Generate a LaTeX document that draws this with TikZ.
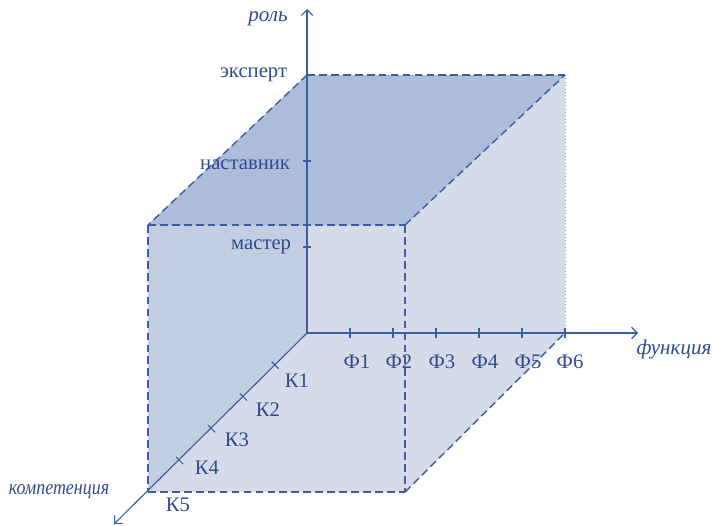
\documentclass[tikz,border=0pt]{standalone}
\usepackage{fontspec}
\setmainfont{Liberation Serif}
\usetikzlibrary{arrows.meta}
\definecolor{axisblue}{RGB}{62,92,160}
\definecolor{textblue}{RGB}{48,76,140}
\definecolor{lightface}{RGB}{213,219,233}
\definecolor{midface}{RGB}{195,205,226}
\definecolor{topface}{RGB}{172,188,219}
\tikzset{
  edge/.style={axisblue, line width=1pt, dash pattern=on 5.5pt off 3pt},
  axis/.style={axisblue, line width=0.8pt, -{Straight Barb[length=4pt,width=8pt]}},
  tick/.style={axisblue, line width=0.8pt},
  lbl/.style={textblue, font=\fontsize{14.7}{16}\selectfont},
  ttl/.style={textblue, font=\fontsize{15}{17}\selectfont\itshape},
}
\begin{document}
\begin{tikzpicture}[x=0.025cm,y=-0.025cm]
\useasboundingbox (0,0) rectangle (712,526);
% corners of the box
\coordinate (O) at (307,333);
\coordinate (T) at (307,75);
\coordinate (A) at (565,75);
\coordinate (B) at (565,333);
\coordinate (C) at (148,225);
\coordinate (D) at (405,225);
\coordinate (E) at (148,492);
\coordinate (F) at (405,492);
% faces
\fill[lightface] (C)--(T)--(A)--(B)--(F)--(E)--cycle;
\fill[midface] (T)--(O)--(E)--(C)--cycle;
\fill[topface] (T)--(A)--(D)--(C)--cycle;
% edges
\draw[edge] (T)--(A);
\draw[edge] (T)--(C);
\draw[edge] (C)--(D);
\draw[edge] (D)--(A);
\draw[edge] (C)--(E);
\draw[edge] (E)--(F);
\draw[edge] (D)--(F);
\draw[edge] (F)--(B);
\draw[axisblue!60, line width=0.4pt, dotted] (A)--(B);
% axes
\coordinate (yend) at (307,9);
\coordinate (xend) at (638,333);
\coordinate (zend) at (114,524);
\draw[axis] (O)--(yend);
\draw[axis] (O)--(xend);
\draw[axis] (O)--(zend);
\node[ttl] (role) at (268,19) {роль};
\node[ttl] (func) at (674,349) {функция};
\node[ttl] (comp) at (59,492) {\scalebox{0.85}[1]{компетенция}};
% role ticks
\draw[tick] (303,247)--(311,247);
\draw[tick] (303,161)--(311,161);
\node[lbl, anchor=east] (master) at (296,247) {мастер};
\node[lbl, anchor=east] (mentor) at (295,165) {наставник};
\node[lbl, anchor=east] (expert) at (292,75) {эксперт};
% function ticks
\draw[tick] (350,328)--(350,338);
\draw[tick] (393,328)--(393,338);
\draw[tick] (436,328)--(436,338);
\draw[tick] (479,328)--(479,338);
\draw[tick] (522,328)--(522,338);
\draw[tick] (565,328)--(565,338);
\node[lbl] (f1) at (357,362) {Ф1};
\node[lbl] (f2) at (399,362) {Ф2};
\node[lbl] (f3) at (442,362) {Ф3};
\node[lbl] (f4) at (485,362) {Ф4};
\node[lbl] (f5) at (528,362) {Ф5};
\node[lbl] (f6) at (570,362) {Ф6};
% competence ticks
\draw[tick] (271.7,361.7)--(278.7,368.7);
\draw[tick] (239.9,393.5)--(246.9,400.5);
\draw[tick] (208.1,425.3)--(215.1,432.3);
\draw[tick] (176.3,457.1)--(183.3,464.1);
\node[lbl] (k1) at (297,381) {К1};
\node[lbl] (k2) at (268,410) {К2};
\node[lbl] (k3) at (237,440) {К3};
\node[lbl] (k4) at (207,468) {К4};
\node[lbl] (k5) at (178,505) {К5};
\end{tikzpicture}
\end{document}
